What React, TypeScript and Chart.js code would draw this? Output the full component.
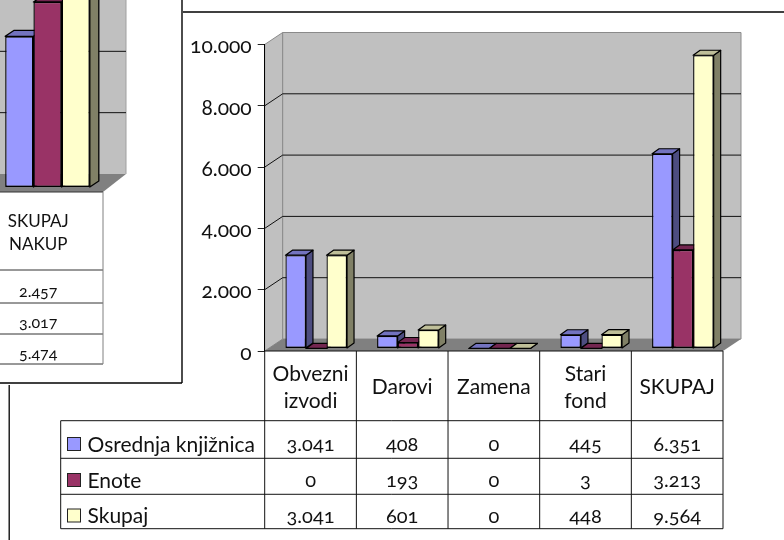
import React, { useEffect, useRef } from "react";
import { Chart, registerables } from "chart.js";

Chart.register(...registerables);

const FONT = "Lato";

// main chart
const mainCategories = [["Obvezni", "izvodi"], ["Darovi"], ["Zamena"], ["Stari", "fond"], ["SKUPAJ"]];
const seriesNames = ["Osrednja knjižnica", "Enote", "Skupaj"];
const centralValues = [3041, 408, 0, 445, 6351];
const unitValues = [0, 193, 0, 3, 3213];
const totalValues = [3041, 601, 0, 448, 9564];

// partly hidden chart behind/over the left edge
const sideCategories = [["SKUPAJ", "NAKUP"]];
const sideCentral = [2457];
const sideUnits = [3017];
const sideTotal = [5474];

const seriesColors = ["#9999FF", "#993366", "#FFFFCC"];
const topColors = ["#7373BF", "#732650", "#BFBF99"];
const sideColors = ["#4D4D80", "#4D1A33", "#808066"];

const fmt = (v: number) => String(v).replace(/\B(?=(\d{3})+$)/g, ".");

function line(ctx: CanvasRenderingContext2D, x1: number, y1: number, x2: number, y2: number) {
  ctx.beginPath();
  ctx.moveTo(x1, y1);
  ctx.lineTo(x2, y2);
  ctx.stroke();
}

function poly(ctx: CanvasRenderingContext2D, pts: number[][], fill: string, stroke?: string) {
  ctx.beginPath();
  pts.forEach((p, i) => (i ? ctx.lineTo(p[0], p[1]) : ctx.moveTo(p[0], p[1])));
  ctx.closePath();
  ctx.fillStyle = fill;
  ctx.fill();
  if (stroke) ctx.stroke();
}

function drawBars3D(chart: any, dx: number, dy: number, ox: number, oy: number, lw: number) {
  const ctx: CanvasRenderingContext2D = chart.ctx;
  chart.data.datasets.forEach((_: any, i: number) => {
    const meta = chart.getDatasetMeta(i);
    meta.data.forEach((el: any) => {
      const { x, y, base, width } = el.getProps(["x", "y", "base", "width"], true);
      const l = x - width / 2 + ox;
      const r = x + width / 2 + ox;
      const t = y + oy;
      const b = base + oy;
      ctx.save();
      ctx.strokeStyle = "#000";
      ctx.lineWidth = lw;
      ctx.lineJoin = "round";
      poly(ctx, [[r, t], [r + dx, t - dy], [r + dx, b - dy], [r, b]], sideColors[i], "#000");
      poly(ctx, [[l, t], [l + dx, t - dy], [r + dx, t - dy], [r, t]], topColors[i], "#000");
      ctx.translate(ox, oy);
      el.draw(ctx);
      ctx.restore();
    });
  });
}

const mainPlugin = {
  id: "mainScene",
  beforeDraw(chart: any) {
    const { ctx, chartArea: a, scales } = chart;
    const y = scales.y;
    const DX = 18;
    const DY = 12;
    ctx.save();
    ctx.fillStyle = "#fff";
    ctx.fillRect(0, 0, chart.width, chart.height);
    ctx.strokeStyle = "#000";
    ctx.lineWidth = 1.3;
    line(ctx, 183, 12, 784, 12);
    line(ctx, 9.2, 383, 9.2, 540);
    // walls
    ctx.strokeStyle = "#8a8a8a";
    ctx.lineWidth = 1;
    poly(ctx, [[a.left, a.top], [a.left + DX, a.top - DY], [a.left + DX, a.bottom - DY], [a.left, a.bottom]], "#C0C0C0", "#8a8a8a");
    poly(ctx, [[a.left + DX, a.top - DY], [a.right + DX, a.top - DY], [a.right + DX, a.bottom - DY], [a.left + DX, a.bottom - DY]], "#C0C0C0", "#8a8a8a");
    poly(ctx, [[a.left, a.bottom], [a.left + DX, a.bottom - DY], [a.right + DX, a.bottom - DY], [a.right, a.bottom]], "#808080");
    // grid lines
    ctx.strokeStyle = "#111";
    y.ticks.forEach((t: any) => {
      if (t.value === 0 || t.value === y.max) return;
      const py = y.getPixelForValue(t.value);
      line(ctx, a.left, py, a.left + DX, py - DY);
      line(ctx, a.left + DX, py - DY, a.right + DX, py - DY);
    });
    ctx.restore();
  },
  beforeDatasetsDraw(chart: any) {
    drawBars3D(chart, 7, 5, 5.7, -2.6, 1.2);
    return false;
  },
  afterDraw(chart: any) {
    const { ctx, chartArea: a, scales } = chart;
    const x = scales.x;
    const colW = (a.right - a.left) / mainCategories.length;
    const header = 420.7;
    const rows = [458.3, 494.3, 528.7];
    const textY = [445, 481, 516.5];
    const keyY = [437.5, 473.5, 509];
    const legendLeft = 60.7;
    const tableRows = [centralValues, unitValues, totalValues];
    ctx.save();
    ctx.strokeStyle = "#111";
    ctx.lineWidth = 1;
    line(ctx, a.left, a.bottom, a.right, a.bottom);
    for (let i = 0; i <= mainCategories.length; i++) {
      const lx = a.left + i * colW;
      line(ctx, lx, a.bottom, lx, rows[2]);
    }
    line(ctx, legendLeft, header, legendLeft, rows[2]);
    line(ctx, legendLeft, header, a.right, header);
    rows.forEach((ry) => line(ctx, legendLeft, ry, a.right, ry));
    ctx.textBaseline = "middle";
    tableRows.forEach((vals, r) => {
      ctx.font = `20px ${FONT}`;
      ctx.fillStyle = "#111";
      ctx.textAlign = "center";
      vals.forEach((v, c) => ctx.fillText(fmt(v), x.getPixelForValue(c), textY[r]));
      ctx.textAlign = "left";
      ctx.font = `21px ${FONT}`;
      ctx.fillText(seriesNames[r], 87.5, textY[r]);
      ctx.fillStyle = seriesColors[r];
      ctx.strokeStyle = "#222";
      ctx.fillRect(67.5, keyY[r], 13, 13);
      ctx.strokeRect(67.5, keyY[r], 13, 13);
      ctx.strokeStyle = "#111";
    });
    ctx.restore();
  },
};

// canvas of the side chart sits at page offset (-40, -200)
const OX = 40;
const OY = 200;
const sidePlugin = {
  id: "sideScene",
  beforeDraw(chart: any) {
    const { ctx, chartArea: a, scales } = chart;
    const y = scales.y;
    const DX = 23;
    const DY = 18;
    ctx.save();
    ctx.fillStyle = "#fff";
    ctx.fillRect(0, 0, chart.width, chart.height);
    poly(ctx, [[a.left, a.top - DY], [a.right + DX, a.top - DY], [a.right + DX, a.bottom - DY], [a.left, a.bottom - DY]], "#C0C0C0");
    poly(ctx, [[a.left, a.bottom], [a.left, a.bottom - DY], [a.right + DX, a.bottom - DY], [a.right, a.bottom]], "#808080");
    ctx.strokeStyle = "#a0a0a0";
    ctx.lineWidth = 1;
    line(ctx, a.right + DX, a.top, a.right + DX, a.bottom - DY);
    ctx.strokeStyle = "#111";
    y.ticks.forEach((t: any) => {
      if (t.value === 0) return;
      const py = y.getPixelForValue(t.value) - DY;
      line(ctx, a.left, py, a.right + DX, py);
    });
    ctx.restore();
  },
  beforeDatasetsDraw(chart: any) {
    drawBars3D(chart, 9, 6, 9.3, -5, 1.3);
    return false;
  },
  afterDraw(chart: any) {
    const { ctx, chartArea: a, scales } = chart;
    const rows = [270, 303, 334, 364];
    const textY = [291.5, 322.5, 354];
    const vals = [sideCentral, sideUnits, sideTotal];
    ctx.save();
    ctx.strokeStyle = "#333";
    ctx.lineWidth = 1;
    line(ctx, a.left, a.bottom, a.right, a.bottom);
    rows.forEach((r) => line(ctx, a.left, r + OY, a.right, r + OY));
    ctx.strokeStyle = "#808080";
    line(ctx, a.right, a.bottom, a.right, rows[3] + OY);
    ctx.font = `16px ${FONT}`;
    ctx.fillStyle = "#111";
    ctx.textAlign = "center";
    ctx.textBaseline = "middle";
    vals.forEach((v, r) => ctx.fillText(fmt(v[0]), scales.x.getPixelForValue(0), textY[r] + OY));
    ctx.strokeStyle = "#000";
    ctx.lineWidth = 1.4;
    line(ctx, 182 + OX, 0, 182 + OX, 383 + OY);
    line(ctx, 0, 383 + OY, 182 + OX, 383 + OY);
    ctx.restore();
  },
};

function dataset(i: number, data: number[], bw: number) {
  return {
    label: seriesNames[i],
    data,
    backgroundColor: seriesColors[i],
    borderColor: "#000",
    borderWidth: bw,
    borderSkipped: false,
  };
}

export default function App() {
  const mainRef = useRef<HTMLCanvasElement>(null);
  const sideRef = useRef<HTMLCanvasElement>(null);

  useEffect(() => {
    const main = new Chart(mainRef.current!, {
      type: "bar",
      data: {
        labels: mainCategories as any,
        datasets: [dataset(0, centralValues, 1.3), dataset(1, unitValues, 1.3), dataset(2, totalValues, 1.3)],
      },
      plugins: [mainPlugin as any],
      options: {
        animation: false,
        responsive: false,
        devicePixelRatio: 1,
        datasets: { bar: { categoryPercentage: 0.672, barPercentage: 1 } },
        layout: { padding: { left: 0, right: 784 - 723, top: 44.5, bottom: 119.3 } },
        plugins: { legend: { display: false }, tooltip: { enabled: false } },
        scales: {
          x: {
            afterFit: (s: any) => { s.height = 69.7; },
            grid: { display: false, drawTicks: false },
            border: { display: false },
            ticks: {
              color: "#111",
              font: { family: FONT, size: 21, lineHeight: 1.286 },
              padding: 23,
              maxRotation: 0,
              autoSkip: false,
              crossAlign: "center",
            },
          },
          y: {
            min: 0,
            max: 10000,
            afterFit: (s: any) => { s.width = 264.7; },
            grid: { drawOnChartArea: false, color: "#222", tickLength: 7 },
            border: { display: true, color: "#000", width: 1 },
            ticks: {
              stepSize: 2000,
              color: "#111",
              padding: 6,
              labelOffset: 2,
              font: { family: FONT, size: 21 },
              callback: (v: any) => fmt(Number(v)),
            },
          },
        },
      },
    } as any);

    const side = new Chart(sideRef.current!, {
      type: "bar",
      data: {
        labels: sideCategories as any,
        datasets: [dataset(0, sideCentral, 1.4), dataset(1, sideUnits, 1.4), dataset(2, sideTotal, 1.4)],
      },
      plugins: [sidePlugin as any],
      options: {
        animation: false,
        responsive: false,
        devicePixelRatio: 1,
        datasets: { bar: { categoryPercentage: 0.653, barPercentage: 1 } },
        layout: { padding: { left: 13.4, right: 80, top: 24, bottom: 113 } },
        plugins: { legend: { display: false }, tooltip: { enabled: false } },
        scales: {
          x: {
            afterFit: (s: any) => { s.height = 80; },
            grid: { display: false, drawTicks: false },
            border: { display: false },
            ticks: {
              color: "#111",
              font: { family: FONT, size: 17, lineHeight: 1.35 },
              padding: 29.5,
              maxRotation: 0,
              autoSkip: false,
              crossAlign: "center",
            },
          },
          y: {
            display: false,
            min: 0,
            max: 6000,
            ticks: { stepSize: 1000 },
          },
        },
      },
    } as any);

    return () => {
      main.destroy();
      side.destroy();
    };
  }, []);

  return (
    <div style={{ position: "fixed", left: 0, top: 0, width: 784, height: 540, overflow: "hidden", background: "#fff" }}>
      <canvas
        ref={mainRef}
        width={784}
        height={540}
        style={{ position: "absolute", left: 0, top: 0, fontVariantNumeric: "oldstyle-nums" }}
      />
      <canvas
        ref={sideRef}
        width={223}
        height={585}
        style={{ position: "absolute", left: -OX, top: -OY, fontVariantNumeric: "oldstyle-nums" }}
      />
    </div>
  );
}
